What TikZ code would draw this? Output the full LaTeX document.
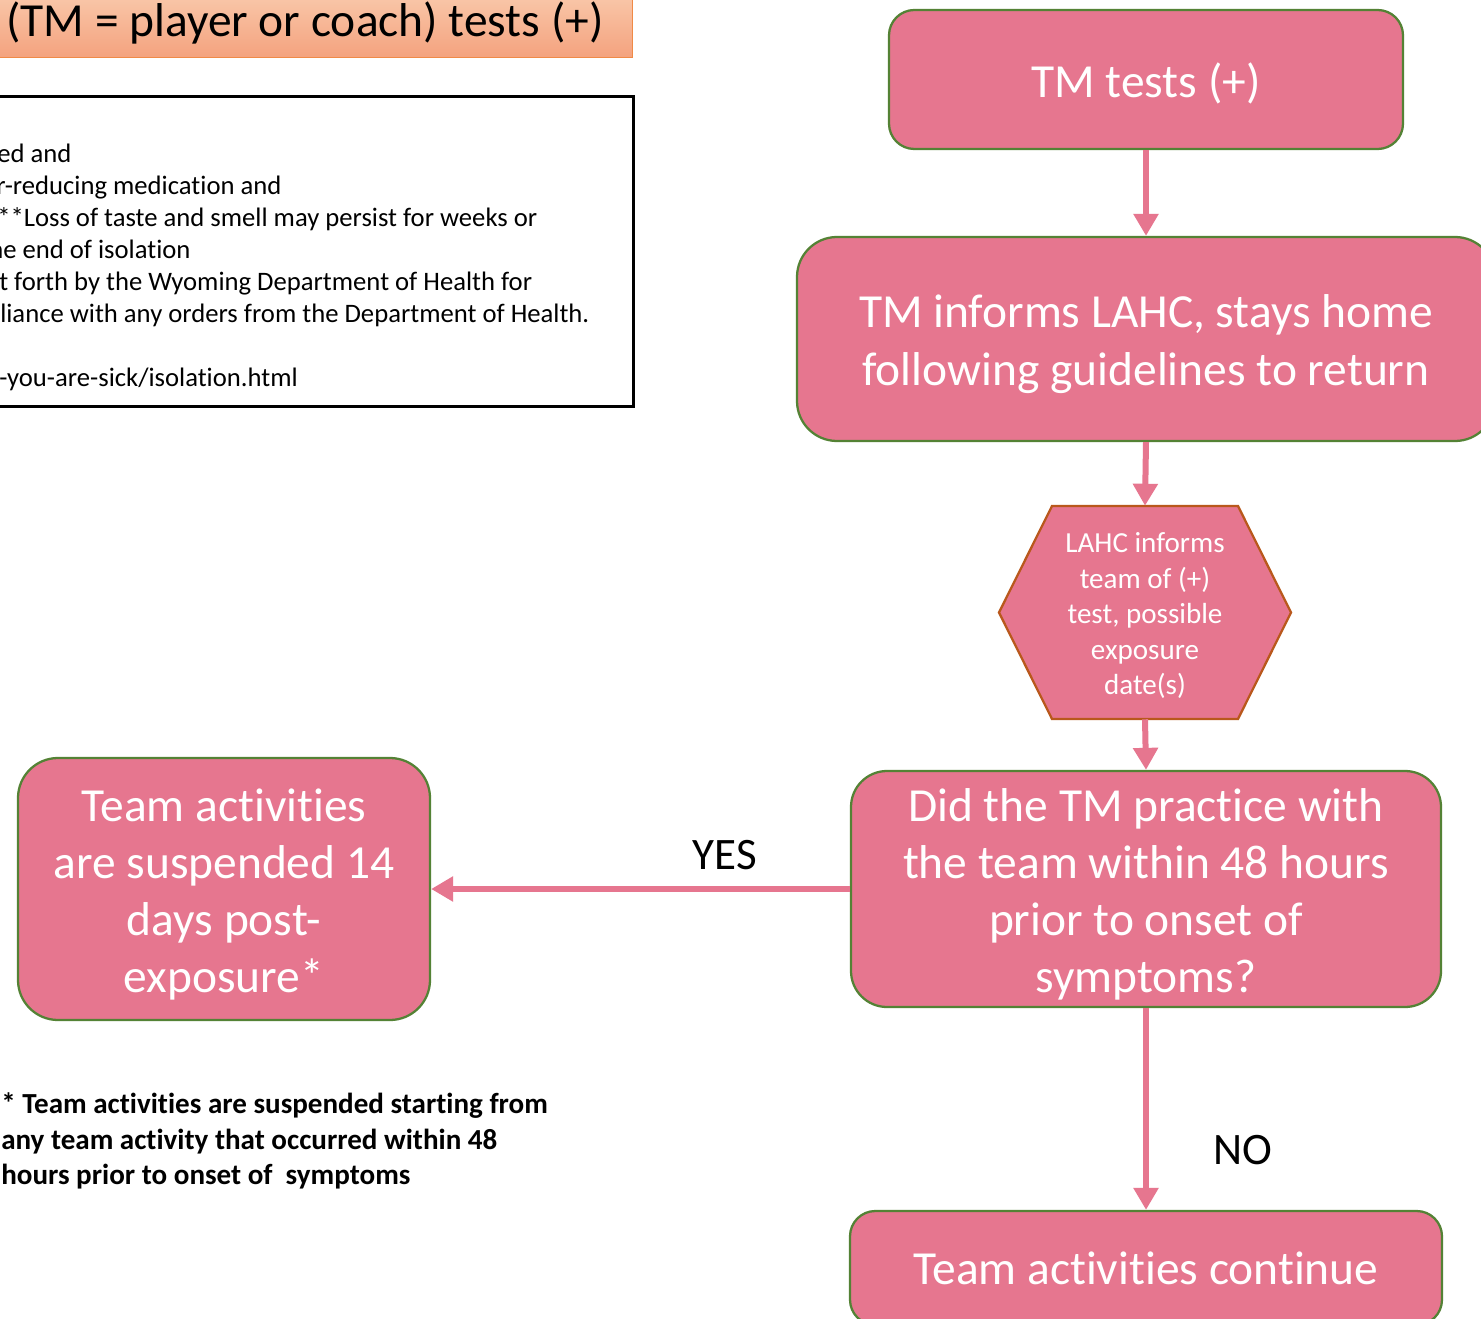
\documentclass[tikz,border=0pt]{standalone}
\usepackage{fontspec}
\setmainfont{Carlito}[Ligatures=NoCommon]
\usetikzlibrary{arrows.meta,calc}
\definecolor{pinkf}{HTML}{E6768F}
\definecolor{greenb}{HTML}{548235}
\definecolor{brownb}{HTML}{B9581C}
\definecolor{orTop}{HTML}{F9C7A9}
\definecolor{orBot}{HTML}{F4A27E}
\definecolor{orBorder}{HTML}{F08A46}
\newcommand{\fstrut}{\rule{0pt}{0.9em}}
\begin{document}
\begin{tikzpicture}[x=0.75pt,y=-0.75pt,
  box/.style={draw=greenb, line width=1.7pt, fill=pinkf, text=white, align=center, inner sep=0pt,
    font=\fontsize{35.6}{43.5}\selectfont},
  boxfour/.style={box, font=\fontsize{35.6}{42.75}\selectfont},
  hexbox/.style={text=white, align=center, inner sep=0pt, font=\fontsize{21.8}{26.6}\selectfont},
  conn/.style={draw=pinkf, line width=4.5pt, -{Triangle[width=18pt,length=16.5pt]}},
  lab/.style={font=\fontsize{33.75}{40}\selectfont, text=black, inner sep=0pt},
  notetext/.style={anchor=base west, inner sep=0pt, font=\fontsize{20}{24}\selectfont},
  titlebox/.style={draw=orBorder, line width=0.8pt, top color=orTop, bottom color=orBot, inner sep=0pt},
  notebox/.style={draw=black, line width=2pt, inner sep=0pt}]
\useasboundingbox (0,0) rectangle (1481,1319);
\fill[white] (0,0) rectangle (1481,1319);
\clip (0,0) rectangle (1481,1319);

% title banner
\node[titlebox, anchor=north west, minimum width=637*0.75pt, minimum height=62*0.75pt] (title) at (-5,-5) {};
\node[anchor=base west, inner sep=0pt, font=\fontsize{35.6}{43.5}\selectfont] (titletext) at (6,37) {(TM = player or coach) tests (+)};

% note box
\node[notebox, anchor=north west, minimum width=639*0.75pt, minimum height=310*0.75pt] (note) at (-7,95) {};
\node[notetext] (n1) at (-3,163) {ed and};
\node[notetext] (n2) at (-4,195) {r-reducing medication and};
\node[notetext] (n3) at (-3,227) {**Loss of taste and smell may persist for weeks or};
\node[notetext] (n4) at (-11,259) {he end of isolation};
\node[notetext] (n5) at (-1,291) {t forth by the Wyoming Department of Health for};
\node[notetext] (n6) at (0,323) {liance with any orders from the Department of Health.};
\node[notetext] (n7) at (-1,387) {-you-are-sick/isolation.html};

% flow boxes
\node[box, rounded corners=19pt, minimum width=514*0.75pt, minimum height=139*0.75pt] (b1) at (1146,79.5) {\fstrut TM tests (+)};
\node[box, rounded corners=30pt, minimum width=698*0.75pt, minimum height=204*0.75pt] (b2) at (1146,339) {\fstrut TM informs LAHC, stays home\\following guidelines to return};

\filldraw[fill=pinkf, draw=brownb, line width=1.7pt, line join=miter]
  (999,612.5) -- (1052,506) -- (1238,506) -- (1291,612.5) -- (1238,719) -- (1052,719) -- cycle;
\node[hexbox, minimum width=186*0.75pt, minimum height=213*0.75pt] (hex) at (1145,612.5) {\fstrut LAHC informs\\team of (+)\\test, possible\\exposure\\date(s)};

\node[boxfour, rounded corners=27pt, minimum width=590*0.75pt, minimum height=236*0.75pt] (b4) at (1146,889) {\fstrut Did the TM practice with\\the team within 48 hours\\prior to onset of\\symptoms?};
\node[boxfour, rounded corners=30pt, minimum width=412*0.75pt, minimum height=262*0.75pt] (b5) at (224,889) {\fstrut Team activities\\are suspended 14\\days post-\\exposure*};
\node[box, rounded corners=19pt, minimum width=592*0.75pt, minimum height=114*0.75pt] (b6) at (1146,1268) {Team activities continue};

% connectors
\draw[conn] (b1.south) -- (b2.north);
\draw[conn] (b2.south) -- (hex.north);
\draw[conn] (hex.south) -- (b4.north);
\draw[conn] (b4.west) -- (b5.east);
\draw[conn] (b4.south) -- (b6.north);

\node[lab] (yes) at (725,855) {YES};
\node[lab] (no) at (1243,1150) {NO};

% footnote
\node[anchor=west, align=left, inner sep=0pt, font=\bfseries\fontsize{21.8}{26.6}\selectfont] (fn) at (1,1141)
  {* Team activities are suspended starting from\\any team activity that occurred within 48\\hours prior to onset of~ symptoms};
\end{tikzpicture}
\end{document}
